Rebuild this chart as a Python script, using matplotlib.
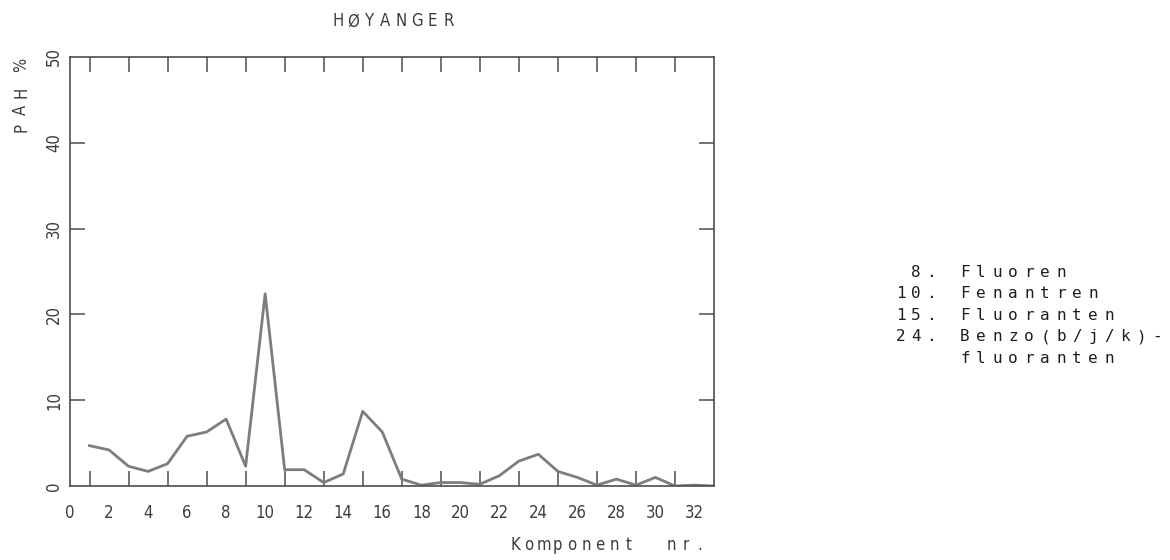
import matplotlib
matplotlib.use("Agg")
import matplotlib.pyplot as plt

# PAH-profil, Høyanger
komponent = list(range(1, 34))
pah_pct = [4.7, 4.2, 2.3, 1.7, 2.6, 5.8, 6.3, 7.8, 2.3, 22.4,
           1.9, 1.9, 0.4, 1.4, 8.7, 6.3, 0.8, 0.1, 0.4, 0.4,
           0.2, 1.2, 2.9, 3.7, 1.7, 1.0, 0.1, 0.8, 0.1, 1.0,
           0.0, 0.1, 0.0]
xtick_labels = list(range(0, 33, 2))
ytick_labels = [0, 10, 20, 30, 40, 50]
minor_x = list(range(1, 33))
liste_nr = ["8.", "10.", "15.", "24.", ""]
liste_navn = ["Fluoren", "Fenantren", "Fluoranten", "Benzo(b/j/k)-", "fluoranten"]

W, H = 1170, 560
plotter = dict(family="DejaVu Sans", fontstretch="condensed", color="#3c3c3c")
skriver = dict(family="DejaVu Sans Mono", color="#1e1e1e")

fig = plt.figure(figsize=(W / 100, H / 100), dpi=100)
ax = fig.add_axes([70 / W, 1 - 486 / H, 644 / W, 429 / H])


def sperret(x, y, s, pitch, rotation=0, **kw):
    # one character per cell, fixed pitch in pixels (x, y from top left)
    for i, ch in enumerate(s):
        if ch == " ":
            continue
        if rotation:
            px, py = x, y - i * pitch
        else:
            px, py = x + i * pitch, y
        fig.text(px / W, 1 - py / H, ch, ha="center", va="baseline",
                 rotation=rotation, rotation_mode="anchor", **kw)


ax.plot(komponent, pah_pct, color="#7d7d7d", lw=2.0, solid_joinstyle="round")

ax.set_xlim(0, 33)
ax.set_ylim(0, 50)

for s in ax.spines.values():
    s.set_color("#4d4d4d")
    s.set_linewidth(1.2)

# labelled ticks without marks, inward marks on every component
ax.set_xticks(xtick_labels)
ax.set_xticklabels([str(v) for v in xtick_labels], fontsize=12, **plotter)
ax.set_xticks(minor_x, minor=True)
ax.tick_params(axis="x", which="major", length=0, pad=13)
ax.tick_params(axis="x", which="minor", direction="in", length=11,
               width=1.1, color="#4d4d4d", top=True, bottom=True)

ax.set_yticks(ytick_labels)
ax.set_yticklabels([str(v) for v in ytick_labels], fontsize=12,
                   rotation=90, va="center", **plotter)
ax.tick_params(axis="y", which="major", direction="in", length=11,
               width=1.1, color="#4d4d4d", left=True, right=True, pad=5)
for t in ax.yaxis.get_major_ticks():
    if t.get_loc() in (0, 50):
        t.tick1line.set_visible(False)
        t.tick2line.set_visible(False)

# title, axis labels
tittel = "HØYANGER"
sperret(393 - (len(tittel) - 1) * 15.8 / 2, 26.5, tittel, 15.8,
        fontsize=12, **plotter)
sperret(26, 128, "PAH", 18, rotation=90, fontsize=12, **plotter)
sperret(26, 65, "%", 18, rotation=90, fontsize=12, **plotter)
sperret(515, 550, "Komponent  nr.", 14.2, fontsize=12, **plotter)

# component list to the right
rad_y = [277, 298, 320, 341, 363]
for nr, navn, y in zip(liste_nr, liste_navn, rad_y):
    if nr:
        sperret(931 - (len(nr) - 1) * 15, y, nr, 15, fontsize=11.5, **skriver)
    sperret(965, y, navn, 16, fontsize=11.5, **skriver)

fig.savefig("out.png", dpi=100, facecolor="white")
